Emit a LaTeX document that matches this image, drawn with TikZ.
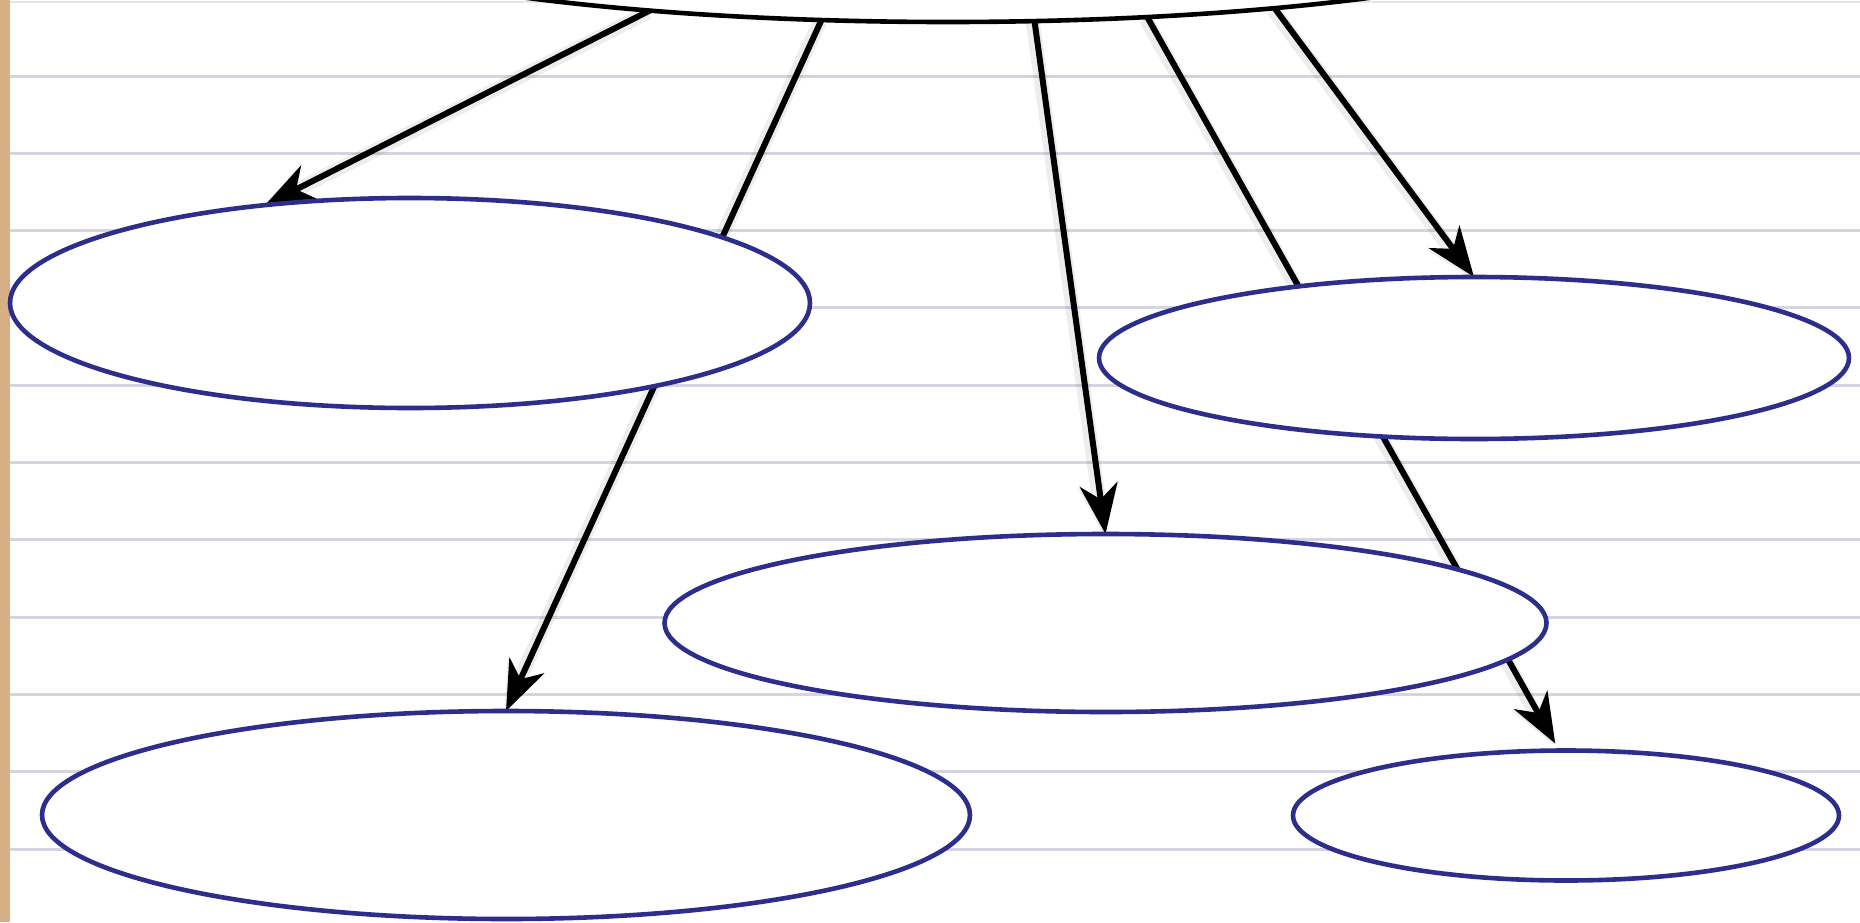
\documentclass[tikz,border=0pt]{standalone}
\usetikzlibrary{arrows.meta,shapes.geometric}
\pgfdeclarelayer{bg}
\pgfdeclarelayer{edges}
\pgfsetlayers{bg,edges,main}
\definecolor{rulegray}{RGB}{214,212,224}
\definecolor{margintan}{RGB}{214,175,133}
\definecolor{navy}{RGB}{45,45,140}
\begin{document}
\begin{tikzpicture}[x=0.5pt,y=-0.5pt,
  blob/.style={ellipse, draw=navy, line width=2.3pt, fill=white, inner sep=0pt, outer sep=0pt},
  topblob/.style={blob, draw=black},
  link/.style={line width=3pt, black,
    preaction={draw=black, opacity=0.07, line width=7pt, transform canvas={shift={(-0.8pt,-0.8pt)}}}},
  tip/.style={-{Stealth[length=25pt,width=19pt,inset=7.5pt]}},
  ruleline/.style={rulegray, line width=1.5pt}
]
\useasboundingbox (0,0) rectangle (1860,922);
\begin{pgfonlayer}{bg}
\fill[white] (0,0) rectangle (1860,922);
\foreach \yy in {76,153.3,230.6,307.9,385.2,462.5,539.8,617.1,694.4,771.7,849}
  \draw[ruleline] (10,\yy) -- (1860,\yy);
\draw[rulegray!60, line width=1pt] (10,1.5) -- (1860,1.5);
\fill[margintan] (0,0) rectangle (10,922);
\end{pgfonlayer}

\node[topblob, minimum width=700pt, minimum height=120pt] (T) at (948,-98) {};
\node[blob, minimum width=400pt, minimum height=105pt] (A) at (410,303) {};
\node[blob, minimum width=375pt, minimum height=81pt] (B) at (1474,358) {};
\node[blob, minimum width=441pt, minimum height=89pt] (C) at (1105.5,623) {};
\node[blob, minimum width=464pt, minimum height=104pt] (D) at (506,815) {};
\node[blob, minimum width=273pt, minimum height=65pt] (E) at (1566,815.5) {};

\begin{pgfonlayer}{edges}
\draw[link,tip] (T.-160.2) -- (A.146);
\draw[link,tip] (T.-137.8) -- (D.90);
\draw[link,tip] (T.-54.2) -- (C.90);
\draw[link,tip,shorten >=4pt] (T.-30.3) -- (E.96);
\draw[link,tip] (T.-18.8) -- (B.90);
\end{pgfonlayer}
\end{tikzpicture}
\end{document}
